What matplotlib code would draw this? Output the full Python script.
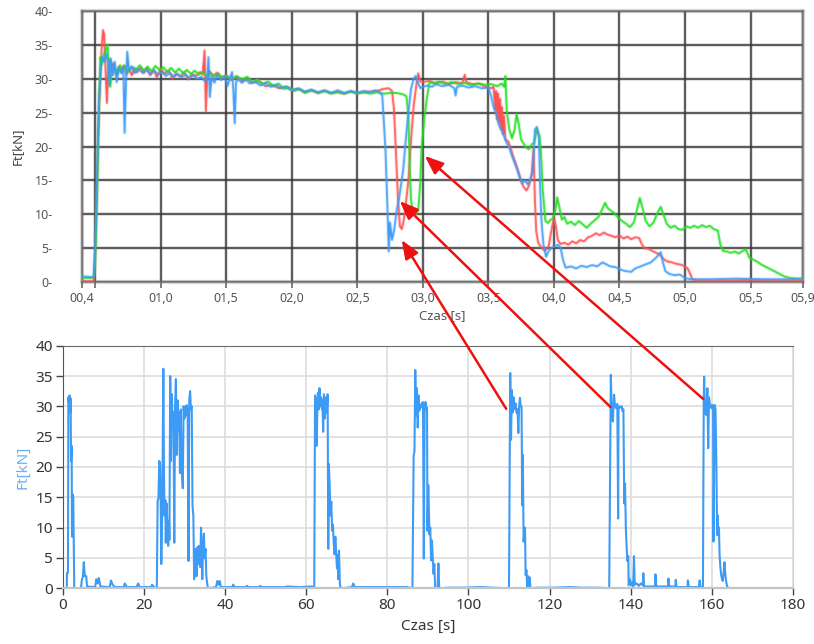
import numpy as np
import matplotlib
matplotlib.use("Agg")
import matplotlib.pyplot as plt
from matplotlib.patches import ConnectionPatch

plt.rcParams['font.family'] = ['Noto Sans', 'DejaVu Sans']

# ---------------- upper chart: single cycle, three runs ----------------
blue_t = [0.40, 0.44, 0.47, 0.49, 0.50, 0.51, 0.52, 0.53, 0.545, 0.555, 0.57, 0.585, 0.60, 0.61,
          0.62, 0.635, 0.65, 0.665, 0.68, 0.70, 0.715, 0.725, 0.735, 0.745, 0.76, 0.78, 0.80,
          0.83, 0.86, 0.89, 0.92, 0.95, 0.98, 1.01, 1.04, 1.07, 1.10, 1.13, 1.16, 1.19, 1.22,
          1.25, 1.28, 1.31, 1.34, 1.355, 1.365, 1.375, 1.39, 1.41, 1.43, 1.46, 1.49, 1.51, 1.53,
          1.545, 1.555, 1.565, 1.575, 1.59, 1.62, 1.65, 1.68, 1.72, 1.76, 1.80, 1.84, 1.88, 1.92,
          1.96, 2.00, 2.05, 2.10, 2.15, 2.20, 2.25, 2.30, 2.35, 2.40, 2.45, 2.50, 2.55, 2.60, 2.64,
          2.67, 2.69, 2.70, 2.715, 2.73, 2.74, 2.75, 2.765, 2.78, 2.80, 2.82, 2.85, 2.87, 2.89,
          2.91, 2.93, 2.945, 2.96, 2.98, 3.00, 3.03, 3.07, 3.10, 3.15, 3.20, 3.24, 3.25, 3.26,
          3.30, 3.35, 3.40, 3.45, 3.50, 3.52, 3.54, 3.56, 3.58, 3.60, 3.62, 3.64, 3.66, 3.68,
          3.70, 3.72, 3.74, 3.76, 3.78, 3.80, 3.82, 3.84, 3.855, 3.87, 3.885, 3.895, 3.905, 3.92,
          3.94, 3.96, 3.98, 4.00, 4.03, 4.05, 4.07, 4.09, 4.13, 4.17, 4.21, 4.25, 4.29, 4.33,
          4.37, 4.40, 4.43, 4.47, 4.51, 4.55, 4.59, 4.62, 4.66, 4.70, 4.74, 4.78, 4.815, 4.83,
          4.85, 4.88, 4.92, 4.96, 5.00, 5.04, 5.20, 5.40, 5.60, 5.80, 5.90]
blue_f = [0.8, 0.8, 0.7, 0.8, 5, 12, 20, 27, 32, 33.2, 32.5, 33.8, 32.2, 29,
          33, 30.5, 32.5, 29.5, 31.5, 30.8, 31.8, 22, 29, 34, 31.2, 31.8, 30.8,
          31.5, 30.9, 31.3, 30.7, 31.2, 30.6, 31.0, 30.4, 30.9, 30.3, 30.7, 30.2, 30.6, 30.1,
          30.5, 30.0, 30.3, 29.6, 30.2, 33.2, 27.3, 30.4, 29.4, 30.5, 29.8, 30.4, 28.9, 30.2,
          31.0, 28.0, 23.4, 29.5, 30.0, 29.4, 29.9, 29.3, 29.6, 29.0, 29.4, 28.8, 29.1, 28.6,
          28.9, 28.3, 28.6, 28.1, 28.4, 28.0, 28.3, 27.9, 28.3, 27.9, 28.2, 27.9, 28.2, 28.0, 28.3,
          28.0, 27.6, 24.5, 19.5, 11, 4.5, 8.8, 6.2, 7.5, 10.5, 12.5, 16.5, 21, 25,
          28.5, 30.0, 30.4, 29.6, 28.6, 28.8, 29.0, 28.8, 29.2, 28.9, 29.1, 28.6, 27.5, 28.8,
          29.0, 28.7, 28.9, 28.6, 28.7, 27.5, 25.8, 24.8, 23.2, 22.5, 21.5, 20.5, 19.8, 18.6,
          17.6, 16.6, 15.4, 14.6, 15.0, 14.4, 15.2, 16.5, 22.5, 22.9, 21.5, 14, 9, 5.5,
          3.7, 4.6, 5.0, 5.2, 5.5, 5.1, 3.2, 2.1, 2.3, 2.0, 2.4, 2.2, 2.5, 2.3,
          2.9, 2.6, 2.3, 2.2, 1.8, 1.6, 1.5, 2.0, 2.3, 2.6, 2.9, 3.6, 4.4, 3.0,
          1.6, 1.2, 1.0, 1.1, 0.6, 0.4, 0.4, 0.5, 0.4, 0.4, 0.5]

red_t = [0.40, 0.47, 0.49, 0.50, 0.51, 0.52, 0.53, 0.54, 0.55, 0.56, 0.57, 0.58, 0.59, 0.60,
         0.61, 0.625, 0.64, 0.66, 0.68, 0.70, 0.72, 0.74, 0.76, 0.78, 0.80, 0.82, 0.85, 0.87,
         0.90, 0.92, 0.95, 0.97, 1.00, 1.03, 1.06, 1.09, 1.12, 1.15, 1.18, 1.21, 1.24, 1.27,
         1.30, 1.32, 1.335, 1.345, 1.355, 1.37, 1.40, 1.43, 1.46, 1.50, 1.54, 1.58, 1.62, 1.66,
         1.70, 1.75, 1.80, 1.85, 1.90, 1.95, 2.00, 2.05, 2.10, 2.15, 2.20, 2.25, 2.30, 2.35,
         2.40, 2.45, 2.50, 2.55, 2.60, 2.65, 2.70, 2.74, 2.765, 2.78, 2.795, 2.81, 2.825, 2.84,
         2.855, 2.87, 2.89, 2.91, 2.93, 2.95, 2.965, 2.98, 3.00, 3.05, 3.10, 3.15, 3.20, 3.25,
         3.30, 3.32, 3.33, 3.38, 3.43, 3.48, 3.52, 3.54, 3.55, 3.56, 3.565, 3.575, 3.58, 3.59,
         3.595, 3.605, 3.61, 3.62, 3.63, 3.65, 3.67, 3.69, 3.71, 3.73, 3.75, 3.77, 3.79, 3.81,
         3.83, 3.845, 3.855, 3.865, 3.88, 3.90, 3.93, 3.96, 3.98, 4.00, 4.015, 4.03, 4.05, 4.08,
         4.11, 4.14, 4.17, 4.20, 4.23, 4.26, 4.29, 4.32, 4.35, 4.38, 4.41, 4.44, 4.47, 4.50,
         4.53, 4.56, 4.59, 4.62, 4.65, 4.67, 4.69, 4.72, 4.75, 4.78, 4.81, 4.84, 4.87, 4.90,
         4.93, 4.96, 4.99, 5.02, 5.04, 5.055, 5.10, 5.30, 5.50, 5.70, 5.90]
red_f = [0.1, 0.1, 0.2, 4, 11, 19, 26, 30, 34.5, 37.2, 36.5, 31, 26.4, 31.0,
         33.0, 31.8, 32.3, 30.5, 31.8, 31.2, 32.0, 30.6, 31.4, 30.5, 31.6, 30.9, 31.7, 30.8,
         31.6, 30.5, 31.3, 30.2, 31.5, 30.7, 31.2, 30.0, 30.8, 30.3, 31.0, 29.9, 30.7, 30.4,
         31.0, 30.6, 34.2, 25.2, 30.0, 31.2, 30.4, 30.9, 30.2, 30.5, 29.8, 30.3, 29.6, 30.0,
         29.4, 29.6, 28.9, 29.1, 28.6, 28.8, 28.3, 28.5, 28.0, 28.3, 27.9, 28.2, 27.9, 28.0,
         27.8, 28.1, 27.9, 28.0, 28.1, 28.2, 28.5, 28.6, 28.2, 25.5, 19, 12.5, 8.2, 7.8,
         9.2, 11.5, 15, 21, 26, 29, 30.8, 29.6, 29.5, 29.7, 29.3, 29.6, 29.2, 29.5,
         29.3, 30.6, 29.5, 29.2, 29.3, 28.8, 28.6, 28.8, 25.5, 28.2, 24, 27.8, 23.5, 27.0,
         22.5, 25.8, 21.8, 24.5, 21.0, 20.8, 19.8, 18.5, 17.4, 16.2, 14.8, 14.0, 13.5, 14.2,
         15.8, 19.8, 12, 7.5, 5.8, 5.2, 4.6, 5.3, 7.5, 9.5, 8.2, 6.2, 5.6, 5.8,
         5.5, 6.0, 5.7, 6.2, 6.0, 6.6, 6.8, 7.2, 6.9, 7.3, 7.0, 6.8, 6.6, 6.9,
         6.4, 6.7, 6.3, 6.6, 6.5, 5.6, 5.0, 4.9, 4.6, 4.3, 4.0, 3.3, 3.0, 2.9,
         2.7, 2.6, 2.4, 2.0, 1.2, 0.4, 0.2, 0.2, 0.3, 0.2, 0.2]

green_t = [0.40, 0.47, 0.49, 0.50, 0.51, 0.52, 0.53, 0.54, 0.55, 0.565, 0.58, 0.595, 0.605, 0.615,
           0.63, 0.65, 0.67, 0.69, 0.71, 0.73, 0.75, 0.78, 0.81, 0.84, 0.87, 0.90, 0.93, 0.96,
           0.99, 1.02, 1.05, 1.08, 1.11, 1.14, 1.17, 1.20, 1.23, 1.26, 1.29, 1.32, 1.35, 1.38,
           1.41, 1.44, 1.47, 1.50, 1.54, 1.58, 1.62, 1.66, 1.70, 1.74, 1.78, 1.82, 1.86, 1.90,
           1.94, 1.98, 2.02, 2.06, 2.10, 2.15, 2.20, 2.25, 2.30, 2.35, 2.40, 2.45, 2.50, 2.55,
           2.60, 2.65, 2.70, 2.75, 2.80, 2.85, 2.875, 2.89, 2.90, 2.91, 2.925, 2.945, 2.965, 2.98,
           2.99, 3.01, 3.03, 3.05, 3.08, 3.12, 3.17, 3.22, 3.27, 3.32, 3.37, 3.42, 3.47, 3.52,
           3.57, 3.60, 3.62, 3.63, 3.64, 3.66, 3.68, 3.70, 3.715, 3.73, 3.75, 3.77, 3.79, 3.81,
           3.83, 3.85, 3.87, 3.89, 3.90, 3.915, 3.935, 3.955, 3.975, 3.99, 4.01, 4.025, 4.04, 4.06,
           4.08, 4.10, 4.13, 4.16, 4.19, 4.22, 4.25, 4.28, 4.31, 4.34, 4.37, 4.39, 4.41, 4.43,
           4.46, 4.49, 4.52, 4.55, 4.58, 4.61, 4.635, 4.655, 4.675, 4.70, 4.73, 4.76, 4.79, 4.815,
           4.835, 4.86, 4.89, 4.92, 4.95, 4.98, 5.01, 5.04, 5.07, 5.10, 5.13, 5.16, 5.19, 5.22,
           5.25, 5.27, 5.29, 5.32, 5.35, 5.38, 5.41, 5.44, 5.465, 5.49, 5.52, 5.55, 5.58, 5.61,
           5.64, 5.67, 5.70, 5.73, 5.76, 5.80, 5.85, 5.90]
green_f = [0.6, 0.6, 0.7, 3, 9, 17, 26, 33.2, 32, 33.5, 34.2, 35.0, 31, 28.8,
           31.5, 31.7, 30.6, 32.0, 31.2, 31.9, 31.0, 31.8, 31.3, 32.0, 31.2, 31.8, 31.1, 31.9,
           31.3, 31.7, 31.0, 31.6, 30.9, 31.5, 30.8, 31.3, 30.7, 31.2, 30.6, 31.0, 30.4, 30.8,
           30.3, 30.8, 30.1, 30.4, 30.0, 30.4, 29.9, 30.3, 29.5, 29.9, 29.2, 29.6, 28.9, 29.3,
           28.5, 28.7, 28.2, 28.5, 27.9, 28.3, 27.9, 28.2, 27.8, 28.1, 27.8, 28.1, 27.8, 28.0,
           27.8, 28.0, 27.8, 27.9, 27.9, 27.7, 27.4, 24.5, 17, 12, 10.3, 10.0, 10.6, 14.5,
           19.5, 24, 27, 29.5, 29.3, 29.6, 29.2, 29.5, 29.2, 29.4, 29.0, 29.3, 29.1, 29.2,
           28.9, 29.3, 28.8, 30.4, 25.3, 22.5, 21.2, 22.5, 24.8, 23.5, 21.0, 20.4, 19.8, 19.6,
           20.3, 20.6, 22.6, 21.5, 19.5, 13.5, 9.0, 8.7, 9.2, 9.3, 10.5, 12.5, 11.2, 9.2,
           9.6, 8.6, 8.9, 8.4, 9.0, 8.5, 8.0, 8.6, 9.1, 9.6, 10.8, 11.7, 10.9, 10.6,
           10.2, 9.5, 9.0, 8.6, 8.1, 8.8, 10.8, 12.4, 11.0, 9.0, 8.2, 8.8, 10.2, 11.1,
           10.0, 8.6, 8.0, 8.3, 7.8, 7.7, 8.2, 8.0, 8.3, 8.0, 8.4, 8.1, 8.3, 7.8,
           7.6, 5.5, 4.6, 4.5, 4.3, 4.5, 4.2, 4.6, 4.8, 3.6, 3.3, 3.0, 2.6, 2.3,
           2.0, 1.7, 1.4, 1.1, 0.8, 0.6, 0.5, 0.5]

top_xticks = [0.4, 0.5, 1.0, 1.5, 2.0, 2.5, 3.0, 3.5, 4.0, 4.5, 5.0, 5.5, 5.9]
top_xlabels = ["00,4", "", "01,0", "01,5", "02,0", "02,5", "03,0", "03,5", "04,0",
               "04,5", "05,0", "05,5", "05,9"]
top_yticks = [0, 5, 10, 15, 20, 25, 30, 35, 40]

# ---------------- lower chart: whole sequence of cycles ----------------
seq_t = [0.5, 1.0, 1.05, 1.3, 1.4, 1.55, 1.7, 1.85, 1.95, 2.05, 2.2, 2.3, 2.45, 2.6, 2.7, 2.85,
         4.5, 4.7, 5.0, 5.2, 5.45, 5.8, 6.0, 8.0, 8.3, 8.6, 8.9, 9.3, 11.6, 11.9, 12.3, 12.8,
         15.0, 15.3, 15.8, 18.2, 18.6, 19.0, 21.8, 22.0, 22.5, 23.2,
         23.4, 23.6, 23.8, 24.0, 24.1, 24.3, 24.45, 24.6, 24.8, 24.95, 25.1, 25.3, 25.4, 25.6,
         25.8, 26.0, 26.2, 26.3, 26.5, 26.7, 26.9, 27.1, 27.3, 27.5, 27.7, 27.9, 28.1, 28.3,
         28.5, 28.7, 28.9, 29.1, 29.3, 29.6, 29.8, 30.0, 30.2, 30.4, 30.6, 30.8, 31.0, 31.2,
         31.4, 31.6, 31.8, 32.0, 32.2, 32.4, 32.6, 32.8, 33.0, 33.2, 33.4, 33.6, 33.9, 34.1,
         34.3, 34.4, 34.6, 34.8, 35.0, 35.2, 35.4, 35.6, 35.8,
         37.8, 38.1, 38.4, 38.7, 39.0, 41.8, 42.0, 42.4, 45.2, 45.4, 45.8, 48.5, 48.7, 49.0,
         52.0, 55.0, 55.2, 58.3, 61.5, 62.0,
         62.2, 62.4, 62.6, 62.8, 62.9, 63.1, 63.3, 63.5, 63.7, 63.9, 64.0, 64.2, 64.4, 64.6,
         64.8, 65.0, 65.1, 65.3, 65.45, 65.6, 65.8, 66.0, 66.2, 66.4, 66.6, 66.8, 67.0, 67.2,
         67.4, 67.6, 67.75, 67.9, 68.1, 68.3, 68.4, 68.8,
         71.3, 71.6, 72.0, 75.0, 78.2, 81.5, 84.8, 86.2,
         86.5, 86.7, 86.9, 87.1, 87.3, 87.5, 87.7, 87.9, 88.1, 88.3, 88.5, 88.8, 89.0, 89.2,
         89.4, 89.6, 89.8, 89.9, 90.1, 90.4, 90.6, 90.8, 91.0, 91.2, 91.4, 91.6, 91.8, 92.4,
         92.6, 92.8, 95.0, 99.0, 103.0, 106.0, 110.0,
         110.3, 110.5, 110.7, 110.9, 111.1, 111.3, 111.6, 111.9, 112.1, 112.3, 112.5, 112.7,
         112.9, 113.1, 113.25, 113.4, 113.6, 113.8, 113.95, 114.1, 114.3, 114.5, 114.7, 114.9,
         115.1, 115.3, 117.0, 121.0, 125.0, 128.0, 132.0, 134.7,
         134.9, 135.1, 135.3, 135.6, 135.9, 136.1, 136.4, 136.7, 136.9, 137.0, 137.2, 137.5,
         137.8, 138.0, 138.2, 138.4, 138.6, 138.8, 139.0, 139.2, 139.4, 139.5, 139.8, 140.1,
         140.4, 140.6, 140.8, 141.0, 141.5, 142.0, 142.5, 143.0, 143.1, 143.3, 146.0, 146.1,
         146.3, 149.2, 149.3, 149.5, 151.0, 151.1, 151.3, 154.0, 154.1, 154.3, 156.8, 157.0,
         157.2, 157.8,
         158.0, 158.1, 158.3, 158.6, 158.9, 159.1, 159.3, 159.6, 159.9, 160.1, 160.3, 160.4,
         160.7, 160.9, 161.1, 161.3, 161.45, 161.6, 161.75, 161.9, 162.1, 162.3, 162.5, 162.7,
         162.9, 163.1, 163.3, 163.5, 163.7, 164.0]
seq_f = [0, 0, 2.5, 2.6, 31.5, 30.5, 31.8, 29, 31.3, 21, 23.5, 8.5, 15.5, 15, 8.5, 0,
         0, 1.3, 2.0, 4.3, 2.0, 2.0, 0.3, 0.2, 1.5, 0.8, 1.7, 0.3, 0.2, 1.3, 0.6, 0.2,
         0.2, 0.8, 0.2, 0.2, 0.8, 0.2, 0.2, 0.6, 0.2, 0,
         14.5, 14.8, 21, 20.5, 17, 4, 9, 17.5, 36.2, 20, 12, 14.5, 7.5, 14,
         10, 7, 11, 8, 35, 21, 32, 27, 29, 7.5, 30, 34.5, 22, 31,
         26, 29, 19, 29.5, 20, 16.5, 30, 28, 30, 28.5, 30.2, 29, 4.5, 31,
         32.5, 29.5, 30, 13.5, 12, 1.5, 6.5, 5, 2, 6.8, 4, 7, 3.5, 10,
         5, 1.5, 7, 9, 5, 6.5, 2, 0.8, 0,
         0.2, 1.2, 0.6, 1.2, 0.2, 0.2, 0.6, 0.2, 0.2, 0.4, 0.2, 0.2, 0.4, 0.2,
         0.2, 0.2, 0.3, 0.2, 0.3, 0,
         31.8, 30.5, 23.5, 31, 32.2, 29.5, 33, 30, 31.5, 29.5, 31, 25.8, 32, 28,
         30.5, 31.5, 29, 32, 6.5, 20.5, 17, 12, 14.3, 9.5, 10.5, 7.5, 5.6, 8.5,
         6, 3.3, 5.5, 1.5, 6.2, 1, 0.3, 0,
         0.2, 0.8, 0.2, 0.2, 0.2, 0.2, 0.2, 0,
         22, 22.5, 36, 28.5, 33, 26.5, 31.8, 29.3, 30.2, 29.8, 30.5, 30.7, 4.9, 29,
         30.7, 29.5, 29.8, 9.5, 17, 8.9, 10, 4.6, 7.9, 5, 2.4, 4, 0, 0,
         4.1, 0, 0.1, 0.1, 0.2, 0.1, 0,
         35.5, 24.5, 32.7, 29, 31.5, 29.5, 30.5, 28.9, 29.5, 25.6, 30, 31.4,
         30, 29.9, 13.7, 22, 7.7, 9.2, 10, 2.2, 3, 0, 2, 0,
         1.8, 0, 0.1, 0.1, 0.2, 0.1, 0.1, 0,
         18.1, 35.2, 30, 27.5, 31.9, 30.2, 29.7, 30.4, 11.5, 29.5, 30, 29.8,
         30, 29.2, 29.5, 14, 17.3, 10, 6.6, 4.5, 5.3, 0.5, 1.5, 0.5,
         1.0, 0.3, 5.3, 0.6, 0.8, 0.4, 0.8, 0.5, 2.5, 0.3, 0.3, 2.3,
         0.3, 0.3, 1.6, 0.3, 0.3, 1.4, 0.2, 0.2, 1.3, 0.2, 0.2, 1.3,
         0.2, 0,
         31, 34.9, 29, 28.6, 33, 23.1, 31.5, 29.8, 30.2, 29.6, 30.2, 7.7,
         30.2, 29.5, 21.3, 8.8, 12, 8.8, 10, 5.5, 3.5, 2.2, 1.5, 1.2,
         2.5, 4.3, 2.5, 1.2, 0.5, 0]

seq_xticks = [0, 20, 40, 60, 80, 100, 120, 140, 160, 180]
seq_yticks = [0, 5, 10, 15, 20, 25, 30, 35, 40]

# arrows: (time in whole sequence, force) -> (time in single cycle, force)
arrow_from = [(109.3, 29.6), (135.0, 29.9), (157.9, 31.2)]
arrow_to = [(2.839, 6.2), (2.824, 11.95), (3.015, 18.6)]


def soften(img, dpi):
    """Light 3-tap blur (premultiplied alpha) for a slightly soft rendering."""
    pad = 2
    a = np.pad(img, ((pad, pad), (pad, pad), (0, 0)))
    pm = a.copy()
    pm[..., :3] *= pm[..., 3:4]
    k = [0.16, 0.68, 0.16]
    for axis in (0, 1):
        pm = sum(w * np.roll(pm, i - 1, axis=axis) for i, w in enumerate(k))
    alpha = pm[..., 3:4]
    out = pm.copy()
    out[..., :3] = np.where(alpha > 1e-6, pm[..., :3] / np.maximum(alpha, 1e-6), 0)
    return np.clip(out, 0, 1), -pad, -pad


# ---------------- figure ----------------
W, H = 814, 644
fig = plt.figure(figsize=(W / 100, H / 100), dpi=100)


def px_box(left, top, right, bottom):
    return [left / W, 1 - bottom / H, (right - left) / W, (bottom - top) / H]


ax1 = fig.add_axes(px_box(82, 11, 803, 282))
ax2 = fig.add_axes(px_box(62.7, 345.7, 793, 588.3))

# upper chart
lines = []
lines += ax1.plot(red_t, red_f, color='#ff4f4f', lw=1.4, zorder=3)
lines += ax1.plot(green_t, green_f, color='#1fe01f', lw=1.4, zorder=3)
lines += ax1.plot(blue_t, blue_f, color='#3d9cf7', lw=1.4, zorder=4)
ax1.set_xlim(0.4, 5.9)
ax1.set_ylim(0, 40)
ax1.set_xticks(top_xticks)
ax1.set_xticklabels(top_xlabels)
ax1.set_yticks(top_yticks)
ax1.set_yticklabels([f"{v}-" for v in top_yticks])
ax1.grid(True, color='#3a3a3a', lw=1.4)
ax1.tick_params(axis='y', length=0, pad=21, labelsize=9, labelcolor='#555555')
ax1.tick_params(axis='x', length=4, width=1.2, color='#666666', pad=3,
                labelsize=9, labelcolor='#555555')
for sp in ax1.spines.values():
    sp.set_color('#707070')
    sp.set_linewidth(1.5)
    sp.set_agg_filter(soften)
ax1.set_xlabel('Czas [s]', fontsize=9.5, color='#555555', labelpad=3)
ax1.set_ylabel('Ft[kN]', fontsize=9.5, color='#444444', labelpad=8)
for ln in lines + ax1.get_xgridlines() + ax1.get_ygridlines():
    ln.set_agg_filter(soften)

# lower chart
ax2.plot(seq_t, seq_f, color='#3d9bf5', lw=1.5, zorder=2)
ax2.set_xlim(0, 180)
ax2.set_ylim(0, 40)
ax2.set_xticks(seq_xticks)
ax2.set_yticks(seq_yticks)
ax2.grid(True, color='#dddddd', lw=1.2)
ax2.tick_params(length=5, width=1.0, color='#444444', labelsize=11, labelcolor='#333333', pad=2)
ax2.spines['left'].set_color('#555555')
ax2.spines['top'].set_color('#6a6a6a')
ax2.spines['bottom'].set_color('#c4c4c4')
ax2.spines['bottom'].set_linewidth(1.6)
ax2.spines['right'].set_color('#d0d0d0')
ax2.set_xlabel('Czas [s]', fontsize=11, color='#333333', labelpad=4)
ax2.set_ylabel('Ft[kN]', fontsize=11, color='#6ab0f2', labelpad=4)

# connecting arrows
for a, b in zip(arrow_from, arrow_to):
    con = ConnectionPatch(xyA=a, coordsA=ax2.transData, xyB=b, coordsB=ax1.transData,
                          arrowstyle='-|>,head_length=0.8,head_width=0.32',
                          mutation_scale=14, color='#ee1111', lw=1.8, zorder=10)
    fig.add_artist(con)

fig.savefig('out.png', dpi=100)
